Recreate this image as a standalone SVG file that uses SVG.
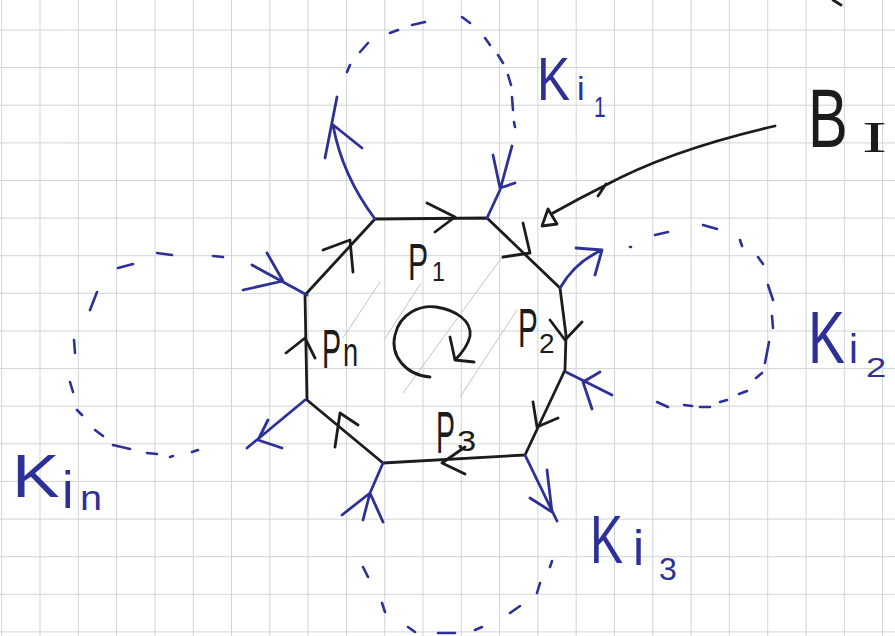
<svg xmlns="http://www.w3.org/2000/svg" width="895" height="636" viewBox="0 0 895 636">
<style>
.grid{stroke:#cfd5d6;stroke-width:1;fill:none}
.ink{stroke:#1c1c1c;stroke-width:2.8;fill:none;stroke-linecap:round;stroke-linejoin:round}
.blue{stroke:#2d3096;stroke-width:2.8;fill:none;stroke-linecap:round;stroke-linejoin:round}
.dash{stroke:#2d3096;stroke-width:2.6;fill:none;stroke-linecap:round}
.hatch{stroke:#c4c4c4;stroke-width:1;fill:none}
.tb{font-family:"Liberation Sans",Arial,sans-serif;fill:#2d3096}
.tk{font-family:"Liberation Sans",Arial,sans-serif;fill:#1c1c1c}
.ts{font-family:"Liberation Serif","Times New Roman",serif;fill:#1c1c1c}
</style>
<rect width="895" height="636" fill="#ffffff"/>
<g id="grid">
<path class="grid" d="M1.7,0V636M40,0V636M78.3,0V636M116.6,0V636M154.9,0V636M193.2,0V636M231.5,0V636M269.8,0V636M308.1,0V636M346.4,0V636M384.7,0V636M423,0V636M461.3,0V636M499.6,0V636M537.9,0V636M576.2,0V636M614.5,0V636M652.8,0V636M691.1,0V636M729.4,0V636M767.7,0V636M806,0V636M844.3,0V636M882.6,0V636"/>
<path class="grid" d="M0,30H895M0,67.6H895M0,105.2H895M0,142.9H895M0,180.5H895M0,218.1H895M0,255.7H895M0,293.3H895M0,331H895M0,368.6H895M0,406.2H895M0,443.8H895M0,481.4H895M0,519.1H895M0,556.7H895M0,594.3H895M0,631.9H895"/>
</g>
<g id="B_I">
<path class="hatch" d="M380,282L343,338M421,283L384,340M502,257L403,393M517,310L460,397"/>
<path class="ink" d="M375,219L487,218L560,288L566,335L565,370L525,455L383,463L307,400L305,295Z"/>
<path class="ink" d="M427,203L455,217L435,232M523,223L530,253L503,257M550,320L565,340L582,322M533,402L537,427L558,418M465,447L442,463L465,474M335,447L340,413L358,425M286,353L305,338L315,358M323,250L350,240L353,272"/>
<path class="ink" d="M430,377C405,375 390,355 395,335C400,313 420,305 436,307C456,310 472,321 470,336C468,346 462,353 455,360M450,337L455,360L474,362"/>
<text class="tk" transform="translate(408,280) scale(0.58,1)" font-size="52">P</text>
<text class="tk" transform="translate(432,281) scale(0.83,1)" font-size="28">1</text>
<text class="tk" transform="translate(518,347) scale(0.53,1)" font-size="56">P</text>
<text class="tk" transform="translate(539,353)" font-size="28">2</text>
<text class="tk" transform="translate(322,368) scale(0.51,1)" font-size="56">P</text>
<text class="tk" transform="translate(343,366) scale(0.68,1)" font-size="40">n</text>
<text class="tk" transform="translate(436,453) scale(0.475,1)" font-size="60">P</text>
<text class="tk" transform="translate(457,451) scale(1.15,1)" font-size="30">3</text>
<text class="tk" transform="translate(808,147) scale(0.71,1)" font-size="84">B</text>
<text class="ts" transform="translate(862,152) scale(1.7,1)" font-size="44">I</text>
</g>
<g id="K_i1">
<path class="dash" d="M347,72L350,65M360,52L368,43M390,33L398,30M412,25L425,22M462,17L470,23M485,38L490,45M498,55L503,63M508,75L511,85M512,97L513,110M514,122L515,127"/>
<text class="tb" transform="translate(537,100) scale(0.8,1)" font-size="62">K</text>
<text class="tb" transform="translate(577,100)" font-size="34">i</text>
<text class="tb" transform="translate(594,117) scale(0.7,1)" font-size="30">1</text>
</g>
<g id="K_i2">
<path class="dash" d="M630,247L631,247M655,235L668,232M703,225L717,229M740,240L742,246M758,257L763,264M768,285L773,300M772,316L773,328M769,342L765,363M762,373L756,378M747,391L739,394M727,400L720,402M710,407L700,407M692,406L684,405M668,407L657,402"/>
<text class="tb" transform="translate(808,363) scale(0.75,1)" font-size="74">K</text>
<text class="tb" transform="translate(849,363)" font-size="40">i</text>
<text class="tb" transform="translate(866,377) scale(1.3,1)" font-size="28">2</text>
</g>
<g id="K_i3">
<path class="dash" d="M363,567L368,577M382,603L385,612M408,627L415,632M438,633L455,633M475,630L482,627M510,613L520,606M537,593L540,583M550,567L552,561"/>
<text class="tb" transform="translate(590,563) scale(0.73,1)" font-size="68">K</text>
<text class="tb" transform="translate(633,565)" font-size="50">i</text>
<text class="tb" transform="translate(659,580)" font-size="32">3</text>
</g>
<g id="K_in">
<path class="dash" d="M157,253L172,255M213,256L223,257M118,268L133,264M90,310L97,292M75,353L74,340M70,382L73,392M77,410L82,415M95,430L103,436M113,445L130,449M147,453L157,454M170,457L173,456M192,452L198,450"/>
<text class="tb" transform="translate(12,497) scale(1.15,1)" font-size="62">K</text>
<text class="tb" transform="translate(62,508)" font-size="52">i</text>
<text class="tb" transform="translate(80,510) scale(1.1,1)" font-size="36">n</text>
</g>
<g id="connectors">
<path class="blue" d="M375,219Q342,175 333,125M337,97L325,158M332,124L362,148"/>
<path class="blue" d="M487,218L500,190L512,146M493,155L500,188L515,183"/>
<path class="blue" d="M560,288Q575,262 602,250M576,248L602,250L595,275"/>
<path class="blue" d="M566,372L612,395M600,372L583,382L592,409"/>
<path class="blue" d="M525,455L557,521M547,470L552,512L530,498"/>
<path class="blue" d="M383,463L370,493L342,515M363,520L370,493L383,522"/>
<path class="blue" d="M305,400L247,448M268,420L258,440L282,448"/>
<path class="blue" d="M252,265L307,295M267,253L283,281L243,290"/>
<path class="ink" stroke-width="2" d="M775,126Q670,150 604,186Q578,199 553,213M606,184L598,196"/>
<path class="ink" stroke-width="2" d="M548,209L542,226L557,224Z"/>
<path class="ink" stroke-width="2.4" d="M833,0L841,5"/>
</g>
</svg>
